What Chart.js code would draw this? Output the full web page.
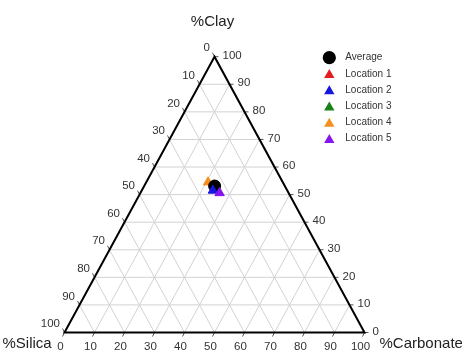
<!DOCTYPE html>
<html>
<head>
<meta charset="utf-8">
<script src="https://cdn.jsdelivr.net/npm/chart.js@4/dist/chart.umd.min.js"></script>
<style>
  html, body { margin: 0; padding: 0; background: #fff; }
  #wrap { width: 462px; height: 353px; position: relative; }
</style>
</head>
<body>
<div id="wrap"><canvas id="chart"></canvas></div>
<script>
// Sample composition (percent of each component)
const seriesNames = ['Average', 'Location 1', 'Location 2', 'Location 3', 'Location 4', 'Location 5'];
const pctClay      = [53.1, 52.6, 51.5, 53.4, 54.5, 50.6];
const pctCarbonate = [23.5, 23.8, 23.7, 23.1, 20.6, 26.4];
const pctSilica    = [23.4, 23.6, 24.8, 23.5, 24.9, 23.0];

// Axis tick labels (shared by all three sides)
const tickValues = [0, 10, 20, 30, 40, 50, 60, 70, 80, 90, 100];
const axisTitles = { top: '%Clay', left: '%Silica', right: '%Carbonate' };

// Marker styling per series
const seriesColors = ['#000000', '#e41e1e', '#1616e0', '#178217', '#f5901e', '#8514ee'];
const seriesShapes = ['circle', 'triangle', 'triangle', 'triangle', 'triangle', 'triangle'];
const seriesRadius = [6.0, 5.4, 5.4, 5.4, 5.4, 5.4];
const seriesLayer  = [3, 6, 2, 5, 4, 1];   // Chart.js "order": lower draws on top

// Ternary -> cartesian (x along the base, y = clay height), both on 0..100
function toXY(clay, carb, silica) {
  const s = clay + carb + silica;
  const c = clay / s * 100, b = carb / s * 100;
  return { x: b + c / 2, y: c };
}

const datasets = seriesNames.map((name, i) => ({
  label: name,
  data: [toXY(pctClay[i], pctCarbonate[i], pctSilica[i])],
  pointStyle: seriesShapes[i],
  pointRadius: seriesRadius[i],
  pointHoverRadius: seriesRadius[i],
  backgroundColor: seriesColors[i],
  borderColor: seriesColors[i],
  borderWidth: 1,
  order: seriesLayer[i]
}));

const FONT = '"Liberation Sans", Arial, sans-serif';

function drawMarker(ctx, shape, x, y, r, color) {
  ctx.save();
  ctx.fillStyle = color;
  ctx.beginPath();
  if (shape === 'circle') {
    ctx.arc(x, y, r, 0, Math.PI * 2);
  } else {
    let a = 0;
    for (let k = 0; k < 3; k++) {
      const px = x + Math.sin(a) * r, py = y - Math.cos(a) * r;
      if (k === 0) ctx.moveTo(px, py); else ctx.lineTo(px, py);
      a += Math.PI * 2 / 3;
    }
    ctx.closePath();
  }
  ctx.fill();
  ctx.restore();
}

// Triangle frame, grid, ticks, labels and legend
const ternaryPlugin = {
  id: 'ternary',
  beforeDatasetsDraw(chart) {
    const ctx = chart.ctx;
    const xs = chart.scales.x, ys = chart.scales.y;
    const P = (clay, carb) => [xs.getPixelForValue(carb + clay / 2), ys.getPixelForValue(clay)];
    const line = (a, b) => { ctx.moveTo(a[0], a[1]); ctx.lineTo(b[0], b[1]); };

    ctx.save();
    // grid
    ctx.strokeStyle = '#d2d2d2';
    ctx.lineWidth = 1;
    ctx.beginPath();
    tickValues.forEach(t => {
      if (t === 0 || t === 100) return;
      line(P(t, 0), P(t, 100 - t));          // constant clay
      line(P(0, t), P(100 - t, t));          // constant carbonate
      line(P(0, 100 - t), P(100 - t, 0));    // constant silica
    });
    ctx.stroke();

    // small outward ticks
    ctx.strokeStyle = '#555';
    ctx.lineWidth = 1;
    ctx.beginPath();
    tickValues.forEach(t => {
      const r = P(t, 100 - t); line(r, [r[0] + 4, r[1]]);
      const b = P(0, t);       line(b, [b[0] - 2, b[1] + 4]);
      const l = P(100 - t, 0); line(l, [l[0] - 2, l[1] - 4]);
    });
    ctx.stroke();

    // frame
    ctx.strokeStyle = '#000';
    ctx.lineWidth = 2;
    ctx.lineJoin = 'miter';
    ctx.beginPath();
    const A = P(100, 0), B = P(0, 0), C = P(0, 100);
    ctx.moveTo(A[0], A[1]); ctx.lineTo(B[0], B[1]); ctx.lineTo(C[0], C[1]); ctx.closePath();
    ctx.stroke();
    ctx.restore();
  },
  afterDraw(chart) {
    const ctx = chart.ctx;
    const xs = chart.scales.x, ys = chart.scales.y;
    const P = (clay, carb) => [xs.getPixelForValue(carb + clay / 2), ys.getPixelForValue(clay)];

    ctx.save();
    ctx.fillStyle = '#333';
    ctx.font = '11.5px ' + FONT;
    ctx.textBaseline = 'middle';
    tickValues.forEach(t => {
      // clay along the right side
      const r = P(t, 100 - t);
      ctx.textAlign = 'left';
      ctx.fillText(String(t), r[0] + 8, r[1] - 1);
      // carbonate along the base
      const b = P(0, t);
      ctx.textAlign = 'center';
      ctx.fillText(String(t), b[0] - 4, b[1] + 14);
      // silica along the left side
      const l = P(100 - t, 0);
      ctx.textAlign = 'right';
      ctx.fillText(String(t), l[0] - 4.5, l[1] - 8.5);
    });

    // axis titles
    ctx.fillStyle = '#222';
    ctx.font = '15px ' + FONT;
    ctx.textBaseline = 'alphabetic';
    const top = P(100, 0);
    ctx.textAlign = 'center';
    ctx.fillText(axisTitles.top, top[0] - 2, 26);
    const bl = P(0, 0);
    ctx.textAlign = 'left';
    ctx.fillText(axisTitles.left, bl[0] - 62, bl[1] + 15);
    const br = P(0, 100);
    ctx.fillText(axisTitles.right, br[0] + 15, br[1] + 15);

    // legend
    const lx = 329.3, ly = 57.7, step = 16.2;
    ctx.font = '10px ' + FONT;
    ctx.textBaseline = 'middle';
    seriesNames.forEach((name, i) => {
      const y = ly + i * step;
      const circle = seriesShapes[i] === 'circle';
      drawMarker(ctx, seriesShapes[i], lx, circle ? y : y + 1.2, circle ? 6.6 : 6.0, seriesColors[i]);
      ctx.textAlign = 'left';
      ctx.fillStyle = '#333';
      ctx.fillText(name, lx + 16, y);
    });
    ctx.restore();
  }
};

new Chart(document.getElementById('chart'), {
  type: 'scatter',
  data: { datasets },
  options: {
    responsive: true,
    maintainAspectRatio: false,
    animation: false,
    layout: { padding: { left: 64.5, right: 97.5, top: 56.7, bottom: 20.5 } },
    scales: {
      x: { type: 'linear', min: 0, max: 100, display: false },
      y: { type: 'linear', min: 0, max: 100, display: false }
    },
    plugins: {
      legend: { display: false },
      tooltip: { enabled: false }
    },
    elements: { point: { hitRadius: 0 } },
    datasets: { scatter: { clip: false } }
  },
  plugins: [ternaryPlugin]
});
</script>
</body>
</html>
